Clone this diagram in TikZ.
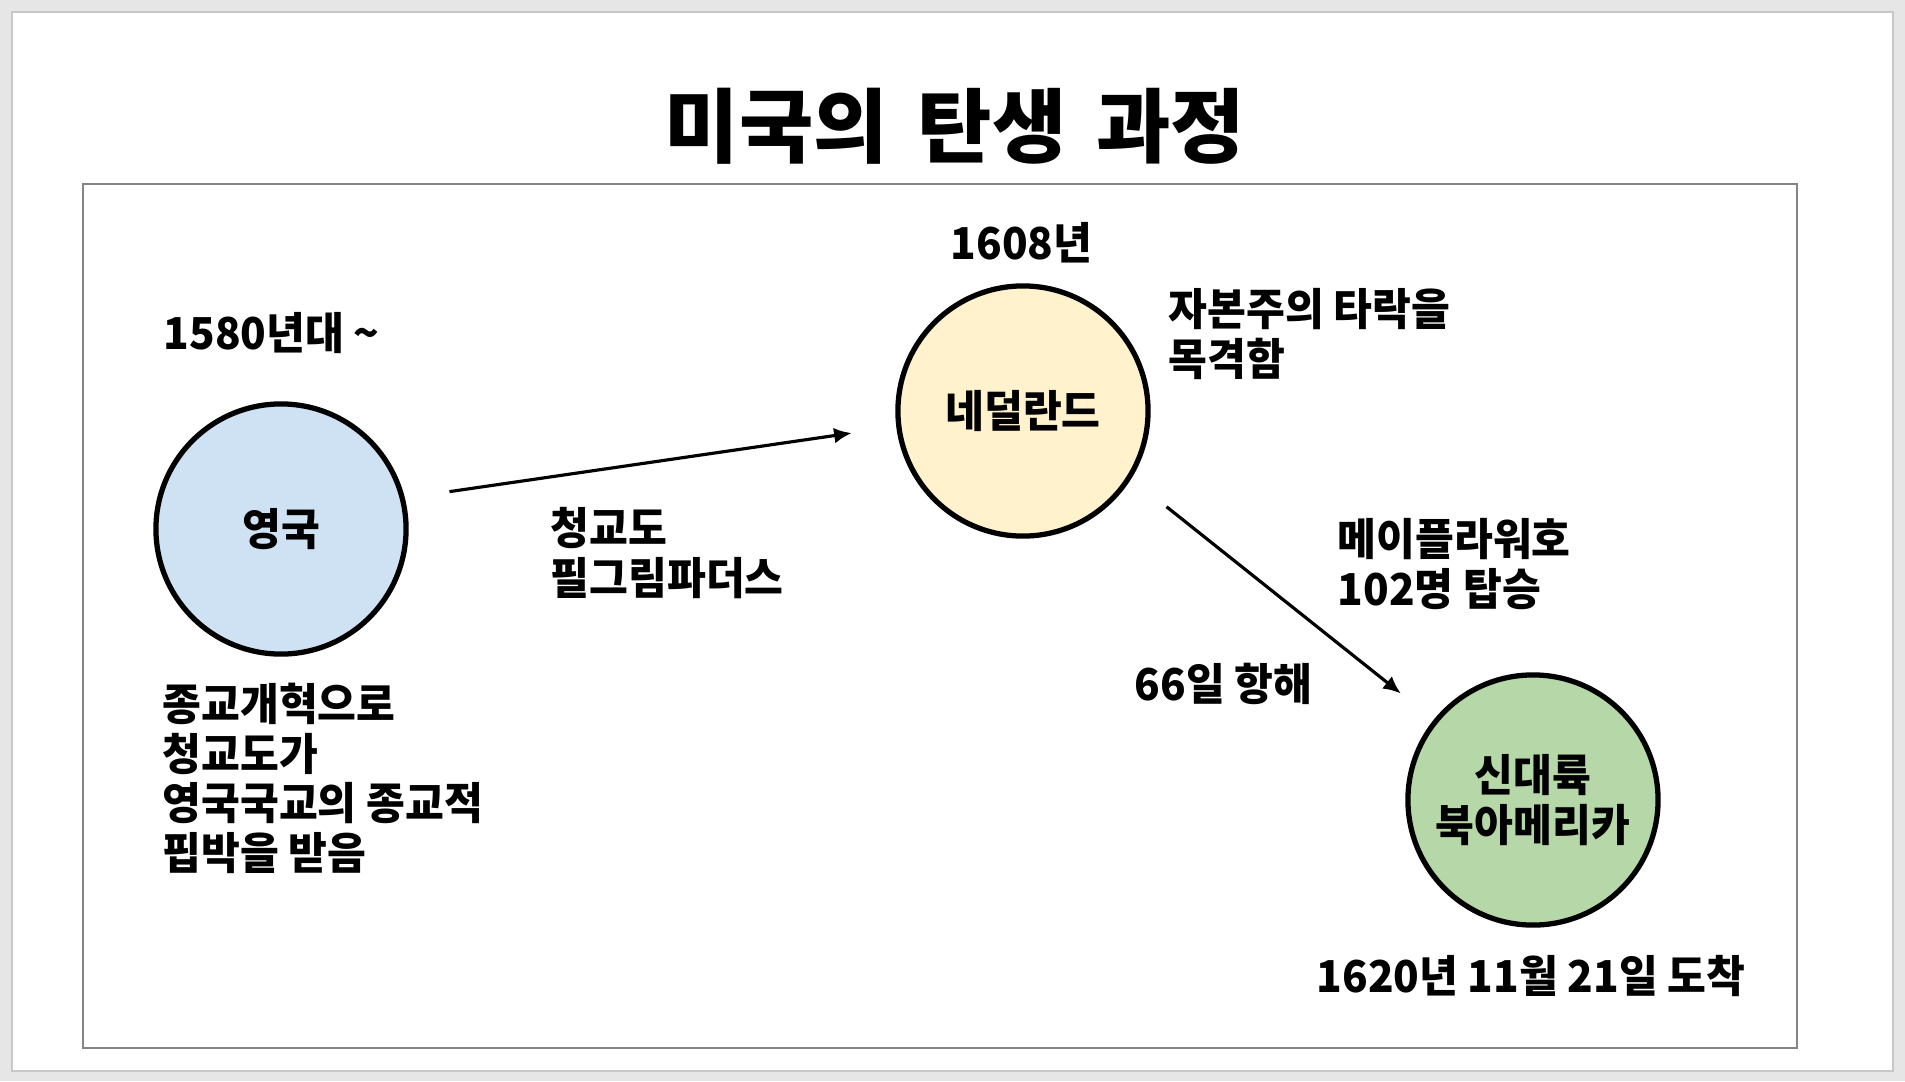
\documentclass[tikz,border=0pt]{standalone}
\usepackage{fontspec}
\newfontfamily\krfont{Noto Sans CJK KR}[FakeStretch=0.96]
\newfontfamily\krtitle{Noto Sans CJK KR Black}[WordSpace=1.6]
\usetikzlibrary{arrows.meta, positioning}

\definecolor{slidegray}{HTML}{E6E6E6}
\definecolor{slideedge}{HTML}{C8C8C8}
\definecolor{framegray}{HTML}{858585}
\definecolor{ukblue}{HTML}{CFE2F3}
\definecolor{nlyellow}{HTML}{FFF2CC}
\definecolor{nagreen}{HTML}{B6D7A8}

\begin{document}
\begin{tikzpicture}[
    x=0.01cm, y={(0cm,-0.01cm)},
    place/.style={circle, draw=black, line width=1.5pt, minimum size=2.5cm, inner sep=0pt, align=center, font=\krfont\bfseries\fontsize{12.5}{14.2}\selectfont},
    note/.style={inner sep=0pt, anchor=north west, align=left, font=\krfont\bfseries\fontsize{12.5}{14.2}\selectfont},
    heading/.style={inner sep=0pt, anchor=north, font=\krtitle\fontsize{23}{26}\selectfont},
    line/.style={draw, line width=0.9pt, -{Latex[length=5pt, width=4.5pt]}}
]
\useasboundingbox (0,0) rectangle (1905,1081);

% Slide
\fill[slidegray] (0,0) rectangle (1905,1081);
\draw[slideedge, fill=white, line width=0.6pt] (12,12) rectangle (1893,1071);
\draw[framegray, line width=0.6pt] (83,184) rectangle (1797,1048);

% Title
\node[heading] (title) at (955,87) {미국의 탄생 과정};

% Places
\node[place, fill=ukblue] (uk) at (281,529) {영국};
\node[place, fill=nlyellow] (nl) at (1023,411) {네덜란드};
\node[place, fill=nagreen] (america) at (1533,800) {신대륙\\북아메리카};

% Notes
\node[note] (ukyear) at (163,312) {1580년대 \textasciitilde};
\node[note] (uknote) at (162,682) {종교개혁으로\\청교도가\\영국국교의 종교적\\핍박을 받음};
\node[note] (pilgrims) at (550,507) {청교도\\필그림파더스};
\node[note] (nlyear) at (950,222) {1608년};
\node[note] (nlnote) at (1168,288) {자본주의 타락을\\목격함};
\node[note] (mayflower) at (1337,518) {메이플라워호\\102명 탑승};
\node[note] (voyage) at (1134,662) {66일 항해};
\node[note] (arrival) at (1316,955) {1620년 11월 21일 도착};

% Connections
\path[line, shorten <=0.45cm, shorten >=0.45cm] (uk.14.5) -- (nl.187.7);
\path[line, shorten <=0.45cm, shorten >=0.42cm] (nl.328.7) -- (america.141.1);

\end{tikzpicture}
\end{document}
